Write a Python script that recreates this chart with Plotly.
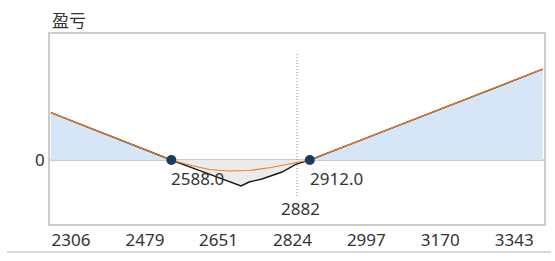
import numpy as np
import plotly.graph_objects as go

# ---- data ----
expiry_price = [2306, 2400, 2500, 2588, 2637, 2690, 2723, 2751, 2770, 2800, 2847, 2879, 2903, 2912,
                3000, 3100, 3200, 3300, 3400, 3457]
expiry_pnl = [284, 188, 88, 0, -47, -97, -132, -156, -132, -114, -72, -26, -7, 0,
              88, 188, 288, 388, 488, 545]

current_price = [2306, 2400, 2500, 2588, 2630, 2677, 2723, 2770, 2821, 2875, 2912,
                 3000, 3100, 3200, 3300, 3400, 3457]
current_pnl = [284, 188, 88, 0, -30, -57, -66, -63, -45, -18, 0,
               88, 188, 288, 388, 488, 545]

breakeven = [2588.0, 2912.0]
breakeven_pnl = [0, 0]
spot_price = 2882
spot_line_pnl = [-216, 642]

x_ticks = [2306, 2479, 2651, 2824, 2997, 3170, 3343]
y_ticks = [0]
title_text = "盈亏"

FONT = "Noto Sans, Open Sans, sans-serif"
TXT = "#333333"

xp = np.array(expiry_price, dtype=float)
yp = np.array(expiry_pnl, dtype=float)

fig = go.Figure()

# positive fills (blue), split into left and right segments; negative (gray) in the middle
left = (xp <= breakeven[0])
right = (xp >= breakeven[1])
mid = (xp >= breakeven[0]) & (xp <= breakeven[1])
for m in (left, right):
    fig.add_trace(go.Scatter(x=xp[m], y=yp[m], mode="lines", line=dict(width=0),
                             fill="tozeroy", fillcolor="#d6e6f7", hoverinfo="skip",
                             showlegend=False))
fig.add_trace(go.Scatter(x=xp[mid], y=yp[mid], mode="lines", line=dict(width=0),
                         fill="tozeroy", fillcolor="#ebebeb", hoverinfo="skip",
                         showlegend=False))

# expiry payoff (black) and current value (orange)
fig.add_trace(go.Scatter(x=expiry_price, y=expiry_pnl, mode="lines",
                         line=dict(color="#1a1a1a", width=1.4), showlegend=False))
fig.add_trace(go.Scatter(x=current_price, y=current_pnl, mode="lines",
                         line=dict(color="#ea7f2e", width=1.2), showlegend=False))

# spot dotted line
fig.add_trace(go.Scatter(x=[spot_price, spot_price], y=spot_line_pnl, mode="lines",
                         line=dict(color="#8c8c8c", width=1, dash="1px,2px"), showlegend=False))

# break-even points
fig.add_trace(go.Scatter(x=breakeven, y=breakeven_pnl, mode="markers",
                         marker=dict(color="#1c3a5e", size=10), showlegend=False))

for b in breakeven:
    fig.add_annotation(x=b, y=0, text=f"{b:.1f}", showarrow=False, xanchor="left",
                       yanchor="middle", yshift=-18, xshift=-2,
                       font=dict(family=FONT, size=17, color=TXT))

fig.add_annotation(x=spot_price, y=0, text=str(spot_price), showarrow=False,
                   xanchor="center", yanchor="middle", yshift=-48, xshift=3,
                   font=dict(family=FONT, size=17, color=TXT))

fig.add_annotation(x=0, y=1.074, xref="paper", yref="paper", text=title_text,
                   showarrow=False, xanchor="left", yanchor="middle",
                   font=dict(family="Noto Sans CJK SC", size=17, color=TXT))

# bottom separator line
fig.add_shape(type="line", xref="paper", yref="paper", x0=-0.087, x1=1.014,
              y0=-0.147, y1=-0.147, line=dict(color="#cccccc", width=1.5))

fig.update_layout(
    width=555, height=261,
    margin=dict(l=50, r=9, t=34, b=37),
    paper_bgcolor="white", plot_bgcolor="white",
    font=dict(family=FONT, size=17, color=TXT),
    showlegend=False,
)
fig.update_xaxes(range=[2304, 3460], tickvals=x_ticks, ticktext=[str(v) for v in x_ticks],
                 ticklabelposition="outside right", ticks="", showgrid=False, zeroline=False,
                 showline=True, mirror=True, linecolor="#cccccc", linewidth=1.5,
                 tickfont=dict(family=FONT, size=17, color=TXT))
fig.update_yaxes(range=[-384, 756], tickvals=y_ticks, ticktext=["0"], ticks="",
                 showgrid=False, zeroline=True, zerolinecolor="#cccccc", zerolinewidth=1.5,
                 showline=True, mirror=True, linecolor="#cccccc", linewidth=1.5,
                 tickfont=dict(family=FONT, size=17, color=TXT))

fig.write_html("out.html")
